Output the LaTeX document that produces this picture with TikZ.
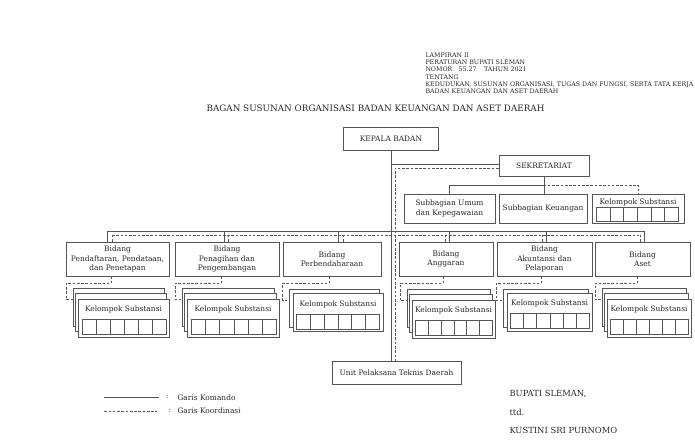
\documentclass[tikz,border=0pt]{standalone}
\usepackage{fontspec}
\setmainfont{DejaVu Serif}
\usetikzlibrary{calc}

\definecolor{garis}{RGB}{85,85,85}
\definecolor{tulisan}{RGB}{40,40,40}

\tikzset{every picture/.style={line width=0.75pt}}
\tikzset{
  ukuran/.style 2 args={minimum width=#1*0.75pt, minimum height=#2*0.75pt},
  kotak/.style={draw=garis, line width=0.6pt, fill=white, align=center, inner sep=0pt, text=tulisan, font=\fontsize{5.6}{6.9}\selectfont},
  kartu/.style={draw=garis, line width=0.6pt, fill=white, inner sep=0pt, minimum width=#1*0.75pt, minimum height=28.5pt},
  komando/.style={draw=garis, line width=0.6pt},
  koordinasi/.style={draw=garis, line width=0.55pt, dash pattern=on 2pt off 1.2pt},
  teks/.style={text=tulisan, inner sep=0pt, font=\fontsize{5.6}{6.9}\selectfont},
}

\begin{document}
\begin{tikzpicture}[x=0.75pt,y=0.75pt,yscale=-1,xscale=1]
\useasboundingbox (0,0) rectangle (695,444);

% Header
\node[anchor=north west, align=left, inner sep=0pt, text=tulisan, font=\fontsize{4.7}{5.5}\selectfont] (lampiran) at (425,52) {LAMPIRAN II\\
PERATURAN BUPATI SLEMAN\\
NOMOR\hspace{1em}55.27\hspace{1.2em}TAHUN 2021\\
TENTANG\\
KEDUDUKAN, SUSUNAN ORGANISASI, TUGAS DAN FUNGSI, SERTA TATA KERJA\\
BADAN KEUANGAN DAN ASET DAERAH};
\node[teks, font=\fontsize{6.6}{8}\selectfont] (judul) at (375.5,108) {BAGAN SUSUNAN ORGANISASI BADAN KEUANGAN DAN ASET DAERAH};

% Boxes
\node[kotak, ukuran={95}{23}] (kepala) at (391,138.5) {KEPALA BADAN};
\node[kotak, ukuran={90}{21}] (sekre) at (544,165.5) {SEKRETARIAT};
\node[kotak, ukuran={91}{29}] (subum) at (449.5,208.5) {Subbagian Umum\\dan Kepegawaian};
\node[kotak, ukuran={88}{29}] (subkeu) at (543,208.5) {Subbagian Keuangan};
\node[kotak, ukuran={92}{29}] (ksek) at (638,208.5) {};
\node[teks] (ksekt) at ($(ksek.north)+(0,9)$) {Kelompok Substansi};

\node[kotak, ukuran={103}{34}] (b1) at (117.5,259) {Bidang\\Pendaftaran, Pendataan,\\dan Penetapan};
\node[kotak, ukuran={104}{34}] (b2) at (227,259) {Bidang\\Penagihan dan\\Pengembangan};
\node[kotak, ukuran={98}{34}] (b3) at (332,259) {Bidang\\Perbendaharaan};
\node[kotak, ukuran={94}{34}] (b4) at (446,259) {Bidang\\Anggaran};
\node[kotak, ukuran={95}{34}] (b5) at (544.5,259) {Bidang\\Akuntansi dan\\Pelaporan};
\node[kotak, ukuran={95}{34}] (b6) at (642.5,259) {Bidang\\Aset};

\node[kotak, ukuran={129}{23}] (upt) at (396.5,372.5) {Unit Pelaksana Teknis Daerah};

% Kelompok Substansi stacks
\node[kartu=91] (k1a) at (118.5,307) {};
\node[kartu=91] (k1b) at (121,312.5) {};
\node[kartu=91] (k1) at (123.5,318) {};
\node[kartu=92] (k2a) at (228,307) {};
\node[kartu=92] (k2b) at (230.5,312.5) {};
\node[kartu=92] (k2) at (233,318) {};
\node[kartu=90] (k3a) at (334.5,308) {};
\node[kartu=90] (k3) at (338,312.5) {};
\node[kartu=83] (k4a) at (448.5,308) {};
\node[kartu=83] (k4b) at (451,313.5) {};
\node[kartu=83] (k4) at (453.5,319) {};
\node[kartu=85] (k5a) at (545.5,308) {};
\node[kartu=85] (k5) at (549.5,312) {};
\node[kartu=84] (k6a) at (644,307) {};
\node[kartu=84] (k6b) at (646.5,312.5) {};
\node[kartu=84] (k6) at (649,318) {};

\foreach \k in {k1,k2,k3,k4,k5,k6}{
  \node[teks] (\k t) at ($(\k.north)+(0,11)$) {Kelompok Substansi};
}

% Grids
\foreach \k/\l/\r/\t/\u in {ksek/5/6/14/2, k1/5/3/21/3, k2/5/3/21/3, k3/4/4/21/3, k4/4/3/21/3, k5/4/3/21/3, k6/4/3/21/3}{
  \coordinate (ga) at ($(\k.south west)+(\l,-\u)$);
  \coordinate (gb) at ($(\k.north east)+(-\r,\t)$);
  \draw[komando] (ga) rectangle (gb);
  \foreach \i in {1,...,5}
    \draw[komando] ($(ga)!\i/6!(ga -| gb)$) -- ($(ga |- gb)!\i/6!(gb)$);
}

% Garis komando
\coordinate (bus) at (391,231);
\coordinate (dbus) at (395,235);
\draw[komando] (kepala.south) -- (kepala.south |- upt.north);
\draw[komando] (kepala.south |- sekre.west) ++(0,-1.5) -- ($(sekre.west)+(0,-1.5)$);
\coordinate (sbus) at ($(sekre.south)!0.5!(subkeu.north)$);
\draw[komando] (sekre.south) -- (sekre.south |- subkeu.north);
\draw[komando] (subum.north) |- (sbus);

\foreach \b/\s/\d in {b1/-10.5/-5.5, b2/-3/1, b3/6/11, b4/3/-1, b5/1.5/-2.5, b6/1.5/-2.5}{
  \coordinate (s\b) at ($(\b.north)+(\s,0)$);
  \coordinate (d\b) at ($(\b.north)+(\d,0)$);
  \draw[komando] (s\b) -- (s\b |- bus);
  \draw[koordinasi] (d\b) -- (d\b |- dbus);
}
\draw[komando] (sb1 |- bus) -- (sb6 |- bus);

% Garis koordinasi
\draw[koordinasi] (db1 |- dbus) -- (db6 |- dbus);
\draw[koordinasi] ($(sekre.west)+(0,2.5)$) -| (dbus |- upt.north);
\draw[koordinasi] (sbus) -| (ksek.north);
\foreach \b/\k/\d in {b1/k1a/-6.5, b2/k2a/-6, b3/k3a/-3, b4/k4a/-3, b5/k5a/-3.5, b6/k6a/-5.5}
  \draw[koordinasi] ($(\b.south)+(\d,0)$) -- ++(0,7) -| ($(\k.north west)+(-6.5,12)$) -- ($(\k.north west)+(0,12)$);

% Legend
\node[teks] (kolon1) at (167.5,397) {:};
\node[teks, anchor=west] (leg1) at (177,398) {Garis Komando};
\draw[komando] ($(kolon1.west)+(-61.5,0)$) -- ($(kolon1.west)+(-6.5,0)$);
\node[teks] (kolon2) at (170,411) {:};
\node[teks, anchor=west] (leg2) at (177,411) {Garis Koordinasi};
\draw[koordinasi] ($(kolon2.west)+(-64,0)$) -- ($(kolon2.west)+(-11,0)$);

% Tanda tangan
\node[teks, anchor=west, font=\fontsize{6.3}{7.5}\selectfont] (bupati) at (509,394) {BUPATI SLEMAN,};
\node[teks, anchor=west, font=\fontsize{6.3}{7.5}\selectfont] (ttd) at (509,412) {ttd.};
\node[teks, anchor=west, font=\fontsize{6.3}{7.5}\selectfont] (nama) at (509,430) {KUSTINI SRI PURNOMO};

\end{tikzpicture}
\end{document}
